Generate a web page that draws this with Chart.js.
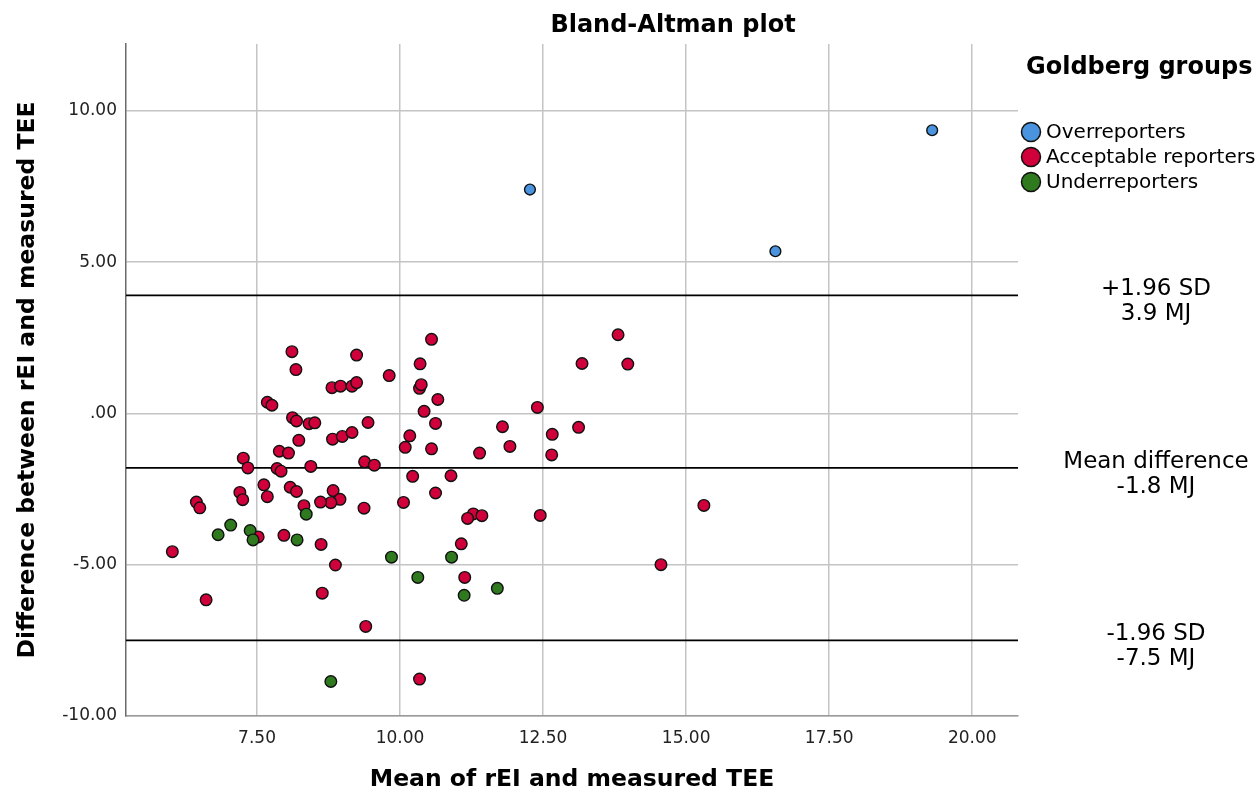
<!DOCTYPE html>
<html>
<head>
<meta charset="utf-8">
<script src="https://cdn.jsdelivr.net/npm/chart.js@4/dist/chart.umd.min.js"></script>
<style>
  body { margin: 0; background: #fff; }
  #wrap { width: 1257px; height: 792px; }
</style>
</head>
<body>
<div id="wrap"><canvas id="chart" width="1257" height="792"></canvas></div>
<script>
// groups (Goldberg cut-offs)
var groupNames = ["Overreporters", "Acceptable reporters", "Underreporters"];
var groupColors = ["#4a93de", "#d0003a", "#2f7a1f"];

// Overreporters
var overX = [12.27, 16.56, 19.30];
var overY = [7.40, 5.36, 9.36];

// Acceptable reporters
var acceptX = [8.11, 9.24, 8.18, 10.35, 9.81, 8.81, 8.96, 9.16, 9.24, 10.34, 10.37,
  7.68, 7.76, 10.42, 8.12, 8.19, 8.41, 8.51, 9.44, 10.17, 10.09, 8.23, 8.82, 8.99,
  9.16, 7.89, 8.05, 7.26, 7.34, 7.85, 7.92, 8.44, 9.38, 9.55, 10.22, 7.62, 7.20,
  7.25, 7.68, 8.08, 8.19, 8.83, 8.95, 8.79, 8.61, 8.32, 9.37, 10.06, 6.44, 6.50,
  7.52, 7.97, 8.62, 6.02, 8.87, 6.61, 8.64, 9.40, 10.34, 10.55, 13.81, 13.18, 13.98,
  10.66, 12.40, 10.62, 11.79, 13.12, 10.55, 11.39, 11.92, 12.66, 12.65, 10.89, 10.62,
  11.28, 11.43, 11.18, 12.45, 11.07, 14.56, 15.31, 11.13];
var acceptY = [2.04, 1.93, 1.45, 1.64, 1.25, 0.85, 0.90, 0.90, 1.02, 0.83, 0.95,
  0.37, 0.27, 0.07, -0.14, -0.25, -0.34, -0.31, -0.30, -0.74, -1.12, -0.89, -0.85, -0.76,
  -0.63, -1.25, -1.31, -1.48, -1.80, -1.82, -1.91, -1.75, -1.60, -1.71, -2.08, -2.36, -2.61,
  -2.85, -2.75, -2.44, -2.58, -2.55, -2.84, -2.95, -2.93, -3.05, -3.13, -2.94, -2.93, -3.12,
  -4.08, -4.03, -4.33, -4.57, -5.01, -6.16, -5.94, -7.04, -8.78, 2.45, 2.60, 1.65, 1.63,
  0.46, 0.20, -0.33, -0.44, -0.46, -1.17, -1.31, -1.09, -0.69, -1.37, -2.06, -2.63,
  -3.32, -3.38, -3.47, -3.37, -4.31, -5.00, -3.04, -5.42];

// Underreporters
var underX = [8.36, 7.04, 6.82, 7.38, 7.43, 8.20, 9.85, 10.31, 10.90, 11.12, 11.70, 8.79];
var underY = [-3.33, -3.69, -4.01, -3.87, -4.18, -4.18, -4.75, -5.42, -4.75, -6.01, -5.78, -8.86];

// limits of agreement
var refValues = [3.9, -1.8, -7.5];
var refLabels = [["+1.96 SD", "3.9 MJ"], ["Mean difference", "-1.8 MJ"], ["-1.96 SD", "-7.5 MJ"]];

// axes
var xMin = 5.21, xMax = 20.8;
var yMin = -10, yMax = 12.21;
var xTicks = [7.5, 10, 12.5, 15, 17.5, 20];
var xTickLabels = ["7.50", "10.00", "12.50", "15.00", "17.50", "20.00"];
var yTicks = [10, 5, 0, -5, -10];
var yTickLabels = ["10.00", "5.00", ".00", "-5.00", "-10.00"];

var FONT = "'DejaVu Sans', sans-serif";

const toPoints = (xs, ys) => xs.map((x, i) => ({ x: x, y: ys[i] }));

var datasets = [
  { label: groupNames[0], data: toPoints(overX, overY), backgroundColor: groupColors[0],
    borderColor: "#111", borderWidth: 1.4, pointRadius: 5.4, order: 1 },
  { label: groupNames[1], data: toPoints(acceptX, acceptY), backgroundColor: groupColors[1],
    borderColor: "#111", borderWidth: 1.4, pointRadius: 5.8, order: 3 },
  { label: groupNames[2], data: toPoints(underX, underY), backgroundColor: groupColors[2],
    borderColor: "#111", borderWidth: 1.4, pointRadius: 5.8, order: 2 },
];

// reference lines as two-point line datasets
refValues.forEach(function (v) {
  datasets.push({
    type: "line",
    label: "ref",
    data: [{ x: xMin, y: v }, { x: xMax, y: v }],
    borderColor: "#000",
    borderWidth: 1.8,
    pointRadius: 0,
    fill: false,
    order: 10,
  });
});

//draws title, legend and the labels of the reference lines
const extraText = {
  id: "extraText",
  afterDraw(chart) {
    var ctx = chart.ctx;
    var yScale = chart.scales.y;
    ctx.save();
    ctx.fillStyle = "#000";
    ctx.textBaseline = "middle";

    // title
    ctx.font = "bold 24px " + FONT;
    ctx.textAlign = "center";
    ctx.fillText("Bland-Altman plot", 673, 26);

    // legend
    ctx.font = "bold 24px " + FONT;
    ctx.textAlign = "left";
    ctx.fillText("Goldberg groups", 1026, 68);
    ctx.font = "20px " + FONT;
    groupNames.forEach(function (name, i) {
      var cy = 132 + i * 25;
      ctx.beginPath();
      ctx.arc(1031, cy, 9.5, 0, Math.PI * 2);
      ctx.fillStyle = groupColors[i];
      ctx.fill();
      ctx.lineWidth = 1.5;
      ctx.strokeStyle = "#111";
      ctx.stroke();
      ctx.fillStyle = "#000";
      ctx.fillText(name, 1046, cy + 1);
    });

    // labels of limits
    ctx.font = "23px " + FONT;
    ctx.textAlign = "center";
    refValues.forEach(function (v, i) {
      var py = yScale.getPixelForValue(v);
      ctx.fillText(refLabels[i][0], 1156, py - 6);
      ctx.fillText(refLabels[i][1], 1156, py + 19);
    });
    ctx.restore();
  },
};

var ctx = document.getElementById("chart").getContext("2d");
var chart = new Chart(ctx, {
  type: "scatter",
  data: { datasets: datasets },
  options: {
    responsive: false,
    animation: false,
    layout: { padding: { top: 44, right: 239, left: 0, bottom: 0 } },
    plugins: {
      legend: { display: false },
      tooltip: { enabled: false },
      title: { display: false },
    },
    scales: {
      x: {
        type: "linear",
        min: xMin,
        max: xMax,
        afterBuildTicks: (s) => { s.ticks = xTicks.map((v) => ({ value: v })); },
        afterFit: (s) => { s.height = 76; },
        ticks: {
          padding: 12,
          color: "#222",
          font: { family: FONT, size: 17 },
          callback: (v) => xTickLabels[xTicks.indexOf(v)],
        },
        grid: { color: "#c4c4c4", lineWidth: 1.5, drawTicks: false },
        border: { color: "#9a9a9a", width: 1.5 },
        title: {
          display: true,
          text: "Mean of rEI and measured TEE",
          color: "#000",
          font: { family: FONT, size: 23.5, weight: "bold", lineHeight: 1 },
          padding: { top: 0, bottom: 0 },
        },
      },
      y: {
        type: "linear",
        min: yMin,
        max: yMax,
        afterBuildTicks: (s) => { s.ticks = yTicks.map((v) => ({ value: v })); },
        afterFit: (s) => { s.width = 126; },
        ticks: {
          padding: 9,
          color: "#222",
          font: { family: FONT, size: 17 },
          callback: (v) => yTickLabels[yTicks.indexOf(v)],
        },
        grid: { color: "#c4c4c4", lineWidth: 1.5, drawTicks: false },
        border: { color: "#6a6a6a", width: 1.5 },
        title: {
          display: true,
          text: "Difference between rEI and measured TEE",
          color: "#000",
          font: { family: FONT, size: 23.5, weight: "bold", lineHeight: 1.2 },
          padding: { top: 14, bottom: 0 },
        },
      },
    },
  },
  plugins: [extraText],
});
</script>
</body>
</html>
